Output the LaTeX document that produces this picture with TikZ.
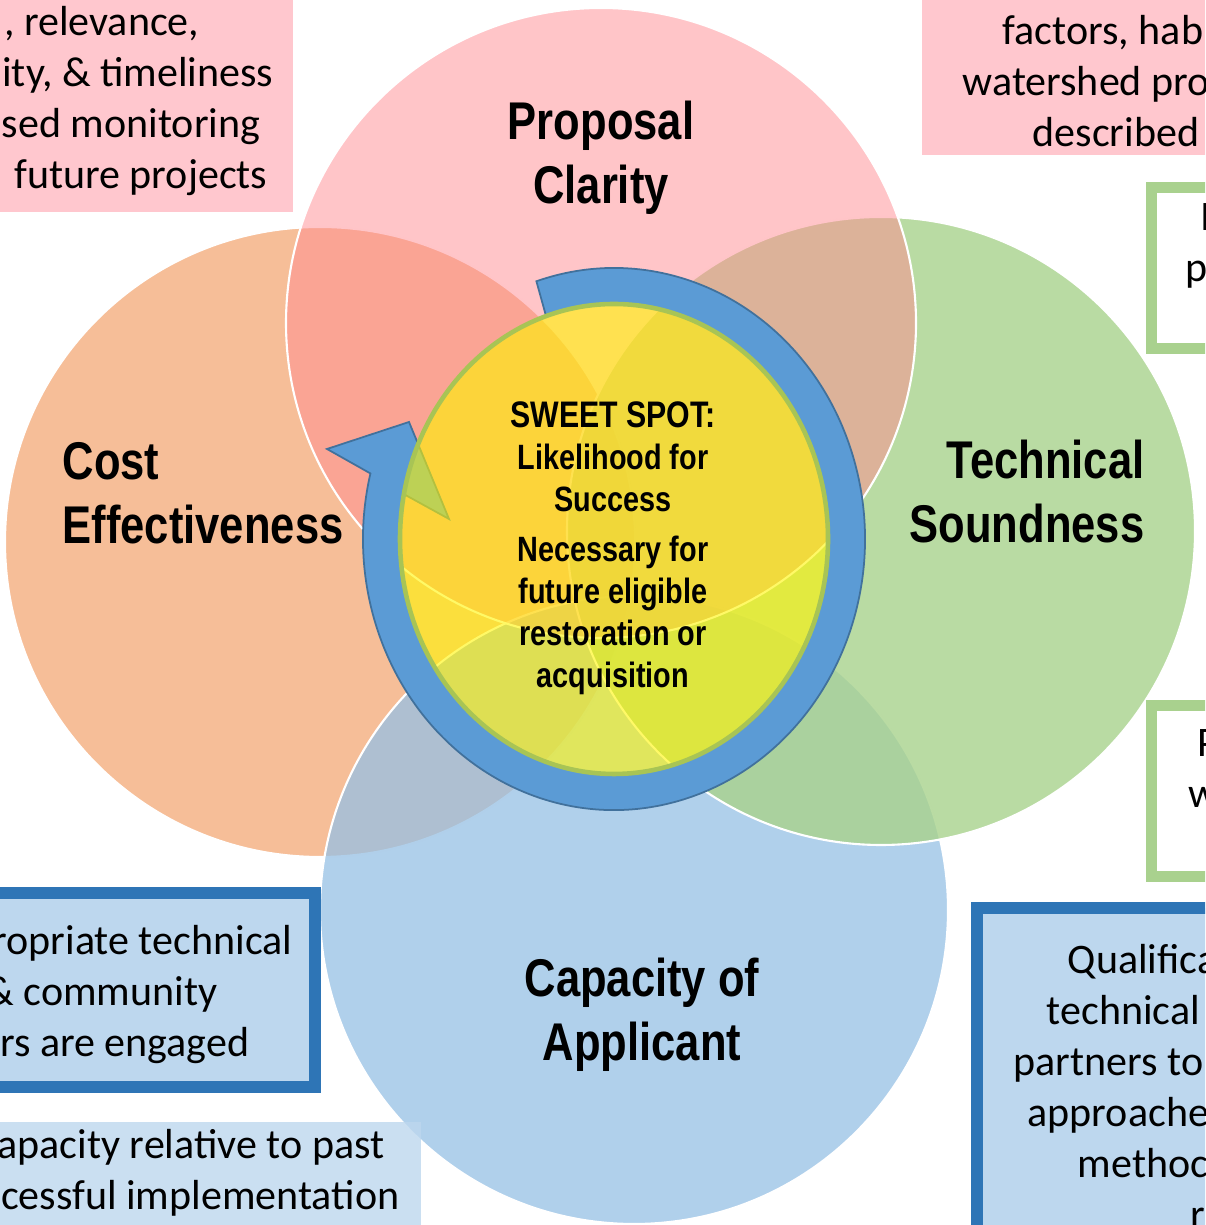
\documentclass[tikz,border=0pt]{standalone}
\usepackage{fontspec}
\setmainfont{Carlito}
\newfontfamily\narrowfont[FakeStretch=0.82]{Liberation Sans}
\usetikzlibrary{calc}

\definecolor{pinkc}{HTML}{FF8B91}
\definecolor{orangec}{HTML}{ED7D31}
\definecolor{greenc}{HTML}{A8D28C}
\definecolor{bluec}{HTML}{96C0E4}
\definecolor{ringc}{HTML}{5B9BD5}
\definecolor{ringline}{HTML}{41719C}
\definecolor{spot}{HTML}{FFF500}
\definecolor{spotline}{HTML}{A8C455}
\definecolor{pinkfill}{HTML}{FFC7CE}
\definecolor{bluefill}{HTML}{BDD7EE}
\definecolor{blueframe}{HTML}{2E75B6}
\definecolor{greenframe}{HTML}{A9D18E}

\begin{document}
\begin{tikzpicture}[
        x=0.01cm, y=0.01cm,
        venn/.style={draw=white, line width=0.6pt},
        circlelabel/.style={font=\narrowfont\bfseries\fontsize{15.1pt}{18.2pt}\selectfont,
            inner sep=0pt},
        spottext/.style={font=\narrowfont\bfseries\fontsize{10pt}{11.95pt}\selectfont,
            align=center, inner sep=0pt},
        boxtext/.style={font=\fontsize{11.95pt}{14.5pt}\selectfont, inner sep=0pt},
        pinkbox/.style={fill=pinkfill},
        bluebox/.style={fill=bluefill, draw=blueframe, line width=3.4pt},
        greenbox/.style={fill=white, draw=greenframe, line width=3.1pt},
    ]
    \useasboundingbox (0,0) rectangle (1205,1225);
    \clip (0,0) rectangle (1205,1225);
    % venn circles
    \path[venn, fill=orangec, fill opacity=0.5] (320,683) circle[radius=315];
    \path[venn, fill=bluec, fill opacity=0.75] (634,315) circle[radius=314];
    \path[venn, fill=greenc, fill opacity=0.8] (881,694) circle[radius=314];
    \path[venn, fill=pinkc, fill opacity=0.5] (601,902) circle[radius=315];
    % circular arrow round the sweet spot
    \coordinate (ctr) at (614,686);
    \coordinate (tailout) at (536.4,943.7);
    \coordinate (headin) at (403.9,730.8);
    \coordinate (barbA) at (327,776);
    \coordinate (tip) at (409,803);
    \coordinate (barbB) at (449,706);
    \draw[fill=ringc, draw=ringline, line width=0.5pt]
        (tailout) arc[start angle=108, end angle=-194, x radius=251, y radius=271]
        -- (barbA) -- (tip) -- (barbB) -- (headin)
        arc[start angle=-191, end angle=108.5, x radius=214, y radius=235] -- cycle;
    \draw[fill=spot, fill opacity=0.6, draw=spotline, line width=1.3pt]
        (ctr) ellipse[x radius=214, y radius=235];
    % labels
    \node[circlelabel, align=center] (clarity) at (601,1067) {Proposal\\Clarity};
    \node[circlelabel, align=left, anchor=west] (cost) at (62,732) {Cost\\Effectiveness};
    \node[circlelabel, align=right, anchor=east] (tech) at (1145,733) {Technical\\Soundness};
    \node[circlelabel, align=center] (capacity) at (642,210) {Capacity of\\Applicant};
    \node[spottext] (sweet) at (613,677) {{\fontsize{10.5pt}{11.95pt}\selectfont SWEET SPOT:}\\
        Likelihood for\\Success\\[2.3pt]Necessary for\\future eligible\\restoration or\\acquisition};
    % boxes round the edge
    \path[pinkbox] (-10,1013) rectangle (293,1235);
    \path[pinkbox] (922,1070) rectangle (1215,1235);
    \draw[greenbox] (1151.5,876.5) rectangle (1230,1037.5);
    \draw[greenbox] (1151.5,348.5) rectangle (1230,519.5);
    \draw[bluebox] (-20,138) rectangle (315,332);
    \path[fill=bluefill, fill opacity=0.8] (-10,-10) rectangle (421,103);
    \draw[bluebox] (977,-20) rectangle (1230,317);
    % box texts
    \node[boxtext, align=right, anchor=east] (monitor) at (274,1124)
        {, relevance,\rule{0.74cm}{0pt}\\ity, \& timeliness\\sed monitoring\rule{0.13cm}{0pt}\\future projects\rule{0.06cm}{0pt}};
    \node[boxtext, align=left, anchor=west] (habitat) at (962,1144)
        {\rule{0.40cm}{0pt}factors, hab\\watershed pro\\\rule{0.70cm}{0pt}described};
    \node[boxtext, align=left, anchor=west] (greenA) at (1185,979) {\rule{0.15cm}{0pt}I\\p};
    \node[boxtext, align=left, anchor=west] (greenB) at (1188,456) {\rule{0.09cm}{0pt}P\\w};
    \node[boxtext, align=right, anchor=east] (partners) at (293,230)
        {ropriate technical\\\& community\rule{0.75cm}{0pt}\\rs are engaged\rule{0.43cm}{0pt}};
    \node[boxtext, align=right, anchor=east] (pastwork) at (400,52)
        {apacity relative to past\rule{0.15cm}{0pt}\\cessful implementation};
    \node[boxtext, align=left, anchor=west] (qualify) at (1013,139)
        {\rule{0.54cm}{0pt}Qualifica\\\rule{0.33cm}{0pt}technical\\partners to\\\rule{0.14cm}{0pt}approache\\\rule{0.64cm}{0pt}methoc\\\rule{1.77cm}{0pt}r};
\end{tikzpicture}
\end{document}
